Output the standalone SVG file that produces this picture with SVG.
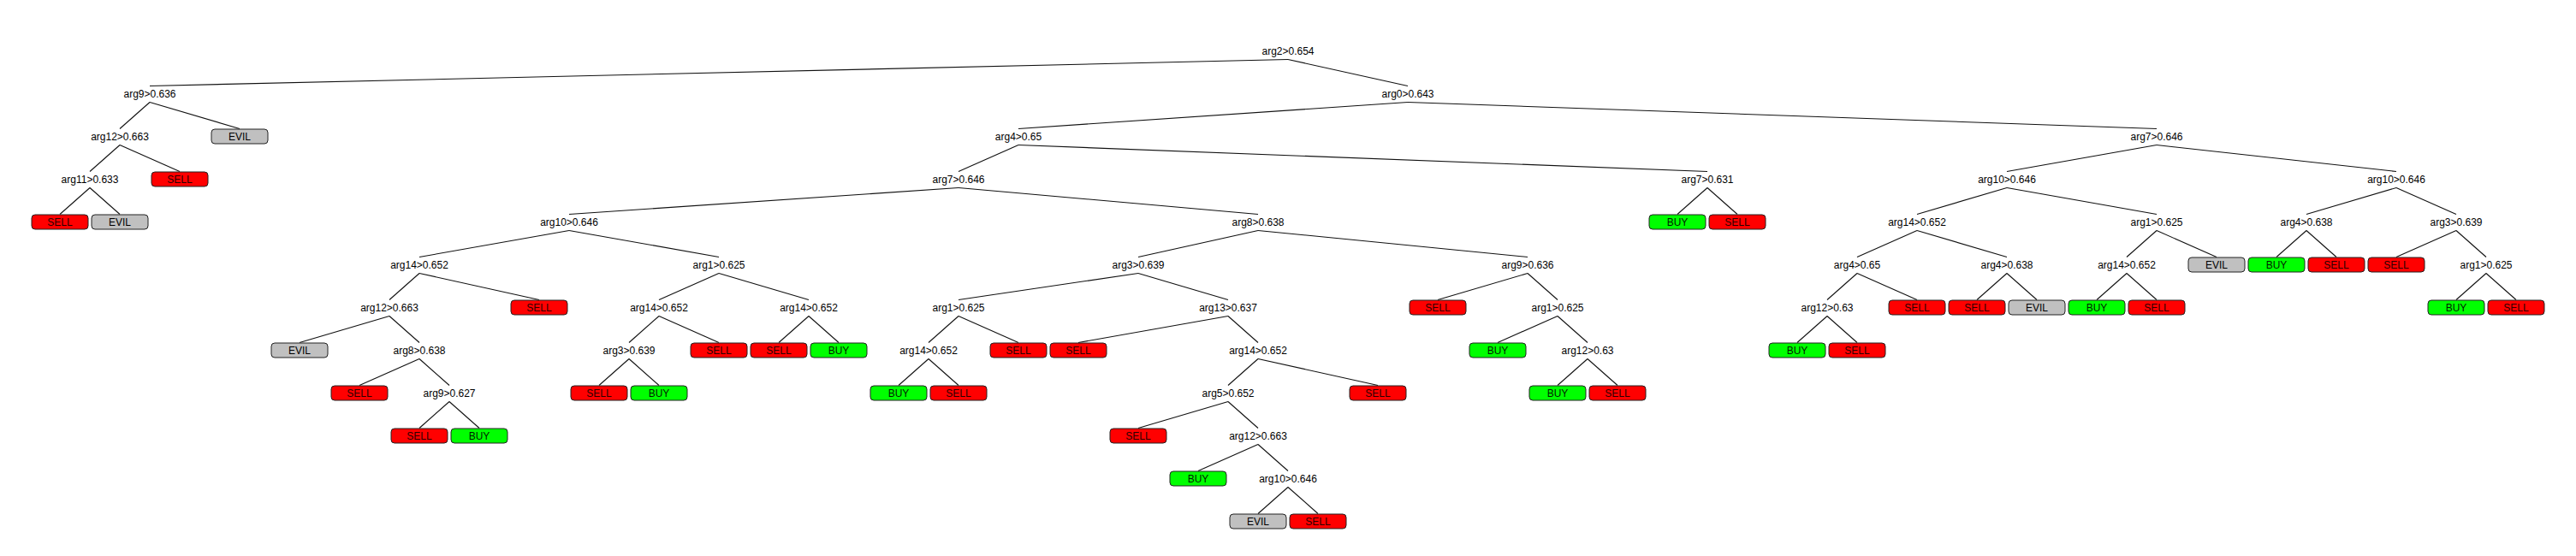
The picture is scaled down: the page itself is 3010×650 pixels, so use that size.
<svg xmlns="http://www.w3.org/2000/svg" width="3010" height="650" viewBox="0 0 3010 650">
<style>
text{font-family:"Liberation Sans",Arial,sans-serif;font-size:12px;text-anchor:middle;fill:#000}
.edges line{stroke:#111;stroke-width:1.1}
.leaf rect{stroke:#222;stroke-width:1}
.sell rect{fill:#ff0000}
.buy rect{fill:#00ff00}
.evil rect{fill:#c0c0c0}
.sell text{fill:#2a0000}
.buy text{fill:#001a00}
</style>
<rect width="3010" height="650" fill="#fff"/>
<g class="edges">
<line x1="1505" y1="69.5" x2="175" y2="100.5"/>
<line x1="1505" y1="69.5" x2="1645" y2="100.5"/>
<line x1="175" y1="119.5" x2="140" y2="150.5"/>
<line x1="175" y1="119.5" x2="280" y2="150.5"/>
<line x1="140" y1="169.5" x2="105" y2="200.5"/>
<line x1="140" y1="169.5" x2="210" y2="200.5"/>
<line x1="105" y1="219.5" x2="70" y2="250.5"/>
<line x1="105" y1="219.5" x2="140" y2="250.5"/>
<line x1="1645" y1="119.5" x2="1190" y2="150.5"/>
<line x1="1645" y1="119.5" x2="2520" y2="150.5"/>
<line x1="1190" y1="169.5" x2="1120" y2="200.5"/>
<line x1="1190" y1="169.5" x2="1995" y2="200.5"/>
<line x1="1120" y1="219.5" x2="665" y2="250.5"/>
<line x1="1120" y1="219.5" x2="1470" y2="250.5"/>
<line x1="665" y1="269.5" x2="490" y2="300.5"/>
<line x1="665" y1="269.5" x2="840" y2="300.5"/>
<line x1="490" y1="319.5" x2="455" y2="350.5"/>
<line x1="490" y1="319.5" x2="630" y2="350.5"/>
<line x1="455" y1="369.5" x2="350" y2="400.5"/>
<line x1="455" y1="369.5" x2="490" y2="400.5"/>
<line x1="490" y1="419.5" x2="420" y2="450.5"/>
<line x1="490" y1="419.5" x2="525" y2="450.5"/>
<line x1="525" y1="469.5" x2="490" y2="500.5"/>
<line x1="525" y1="469.5" x2="560" y2="500.5"/>
<line x1="840" y1="319.5" x2="770" y2="350.5"/>
<line x1="840" y1="319.5" x2="945" y2="350.5"/>
<line x1="770" y1="369.5" x2="735" y2="400.5"/>
<line x1="770" y1="369.5" x2="840" y2="400.5"/>
<line x1="735" y1="419.5" x2="700" y2="450.5"/>
<line x1="735" y1="419.5" x2="770" y2="450.5"/>
<line x1="945" y1="369.5" x2="910" y2="400.5"/>
<line x1="945" y1="369.5" x2="980" y2="400.5"/>
<line x1="1470" y1="269.5" x2="1330" y2="300.5"/>
<line x1="1470" y1="269.5" x2="1785" y2="300.5"/>
<line x1="1330" y1="319.5" x2="1120" y2="350.5"/>
<line x1="1330" y1="319.5" x2="1435" y2="350.5"/>
<line x1="1120" y1="369.5" x2="1085" y2="400.5"/>
<line x1="1120" y1="369.5" x2="1190" y2="400.5"/>
<line x1="1085" y1="419.5" x2="1050" y2="450.5"/>
<line x1="1085" y1="419.5" x2="1120" y2="450.5"/>
<line x1="1435" y1="369.5" x2="1260" y2="400.5"/>
<line x1="1435" y1="369.5" x2="1470" y2="400.5"/>
<line x1="1470" y1="419.5" x2="1435" y2="450.5"/>
<line x1="1470" y1="419.5" x2="1610" y2="450.5"/>
<line x1="1435" y1="469.5" x2="1330" y2="500.5"/>
<line x1="1435" y1="469.5" x2="1470" y2="500.5"/>
<line x1="1470" y1="519.5" x2="1400" y2="550.5"/>
<line x1="1470" y1="519.5" x2="1505" y2="550.5"/>
<line x1="1505" y1="569.5" x2="1470" y2="600.5"/>
<line x1="1505" y1="569.5" x2="1540" y2="600.5"/>
<line x1="1785" y1="319.5" x2="1680" y2="350.5"/>
<line x1="1785" y1="319.5" x2="1820" y2="350.5"/>
<line x1="1820" y1="369.5" x2="1750" y2="400.5"/>
<line x1="1820" y1="369.5" x2="1855" y2="400.5"/>
<line x1="1855" y1="419.5" x2="1820" y2="450.5"/>
<line x1="1855" y1="419.5" x2="1890" y2="450.5"/>
<line x1="1995" y1="219.5" x2="1960" y2="250.5"/>
<line x1="1995" y1="219.5" x2="2030" y2="250.5"/>
<line x1="2520" y1="169.5" x2="2345" y2="200.5"/>
<line x1="2520" y1="169.5" x2="2800" y2="200.5"/>
<line x1="2345" y1="219.5" x2="2240" y2="250.5"/>
<line x1="2345" y1="219.5" x2="2520" y2="250.5"/>
<line x1="2240" y1="269.5" x2="2170" y2="300.5"/>
<line x1="2240" y1="269.5" x2="2345" y2="300.5"/>
<line x1="2170" y1="319.5" x2="2135" y2="350.5"/>
<line x1="2170" y1="319.5" x2="2240" y2="350.5"/>
<line x1="2135" y1="369.5" x2="2100" y2="400.5"/>
<line x1="2135" y1="369.5" x2="2170" y2="400.5"/>
<line x1="2345" y1="319.5" x2="2310" y2="350.5"/>
<line x1="2345" y1="319.5" x2="2380" y2="350.5"/>
<line x1="2520" y1="269.5" x2="2485" y2="300.5"/>
<line x1="2520" y1="269.5" x2="2590" y2="300.5"/>
<line x1="2485" y1="319.5" x2="2450" y2="350.5"/>
<line x1="2485" y1="319.5" x2="2520" y2="350.5"/>
<line x1="2800" y1="219.5" x2="2695" y2="250.5"/>
<line x1="2800" y1="219.5" x2="2870" y2="250.5"/>
<line x1="2695" y1="269.5" x2="2660" y2="300.5"/>
<line x1="2695" y1="269.5" x2="2730" y2="300.5"/>
<line x1="2870" y1="269.5" x2="2800" y2="300.5"/>
<line x1="2870" y1="269.5" x2="2905" y2="300.5"/>
<line x1="2905" y1="319.5" x2="2870" y2="350.5"/>
<line x1="2905" y1="319.5" x2="2940" y2="350.5"/>
</g>
<g id="n0"><text x="1505" y="64">arg2&gt;0.654</text></g>
<g id="n1"><text x="175" y="114">arg9&gt;0.636</text></g>
<g id="n2"><text x="140" y="164">arg12&gt;0.663</text></g>
<g id="n3" class="leaf evil"><rect x="247" y="151" width="66" height="17" rx="4"/><text x="280" y="164">EVIL</text></g>
<g id="n4"><text x="105" y="214">arg11&gt;0.633</text></g>
<g id="n5" class="leaf sell"><rect x="177" y="201" width="66" height="17" rx="4"/><text x="210" y="214">SELL</text></g>
<g id="n6" class="leaf sell"><rect x="37" y="251" width="66" height="17" rx="4"/><text x="70" y="264">SELL</text></g>
<g id="n7" class="leaf evil"><rect x="107" y="251" width="66" height="17" rx="4"/><text x="140" y="264">EVIL</text></g>
<g id="n8"><text x="1645" y="114">arg0&gt;0.643</text></g>
<g id="n9"><text x="1190" y="164">arg4&gt;0.65</text></g>
<g id="n10"><text x="1120" y="214">arg7&gt;0.646</text></g>
<g id="n11"><text x="665" y="264">arg10&gt;0.646</text></g>
<g id="n12"><text x="490" y="314">arg14&gt;0.652</text></g>
<g id="n13"><text x="455" y="364">arg12&gt;0.663</text></g>
<g id="n14" class="leaf evil"><rect x="317" y="401" width="66" height="17" rx="4"/><text x="350" y="414">EVIL</text></g>
<g id="n15"><text x="490" y="414">arg8&gt;0.638</text></g>
<g id="n16" class="leaf sell"><rect x="387" y="451" width="66" height="17" rx="4"/><text x="420" y="464">SELL</text></g>
<g id="n17"><text x="525" y="464">arg9&gt;0.627</text></g>
<g id="n18" class="leaf sell"><rect x="457" y="501" width="66" height="17" rx="4"/><text x="490" y="514">SELL</text></g>
<g id="n19" class="leaf buy"><rect x="527" y="501" width="66" height="17" rx="4"/><text x="560" y="514">BUY</text></g>
<g id="n20" class="leaf sell"><rect x="597" y="351" width="66" height="17" rx="4"/><text x="630" y="364">SELL</text></g>
<g id="n21"><text x="840" y="314">arg1&gt;0.625</text></g>
<g id="n22"><text x="770" y="364">arg14&gt;0.652</text></g>
<g id="n23"><text x="735" y="414">arg3&gt;0.639</text></g>
<g id="n24" class="leaf sell"><rect x="667" y="451" width="66" height="17" rx="4"/><text x="700" y="464">SELL</text></g>
<g id="n25" class="leaf buy"><rect x="737" y="451" width="66" height="17" rx="4"/><text x="770" y="464">BUY</text></g>
<g id="n26" class="leaf sell"><rect x="807" y="401" width="66" height="17" rx="4"/><text x="840" y="414">SELL</text></g>
<g id="n27"><text x="945" y="364">arg14&gt;0.652</text></g>
<g id="n28" class="leaf sell"><rect x="877" y="401" width="66" height="17" rx="4"/><text x="910" y="414">SELL</text></g>
<g id="n29" class="leaf buy"><rect x="947" y="401" width="66" height="17" rx="4"/><text x="980" y="414">BUY</text></g>
<g id="n30"><text x="1470" y="264">arg8&gt;0.638</text></g>
<g id="n31"><text x="1330" y="314">arg3&gt;0.639</text></g>
<g id="n32"><text x="1120" y="364">arg1&gt;0.625</text></g>
<g id="n33"><text x="1085" y="414">arg14&gt;0.652</text></g>
<g id="n34" class="leaf buy"><rect x="1017" y="451" width="66" height="17" rx="4"/><text x="1050" y="464">BUY</text></g>
<g id="n35" class="leaf sell"><rect x="1087" y="451" width="66" height="17" rx="4"/><text x="1120" y="464">SELL</text></g>
<g id="n36" class="leaf sell"><rect x="1157" y="401" width="66" height="17" rx="4"/><text x="1190" y="414">SELL</text></g>
<g id="n37"><text x="1435" y="364">arg13&gt;0.637</text></g>
<g id="n38" class="leaf sell"><rect x="1227" y="401" width="66" height="17" rx="4"/><text x="1260" y="414">SELL</text></g>
<g id="n39"><text x="1470" y="414">arg14&gt;0.652</text></g>
<g id="n40"><text x="1435" y="464">arg5&gt;0.652</text></g>
<g id="n41" class="leaf sell"><rect x="1297" y="501" width="66" height="17" rx="4"/><text x="1330" y="514">SELL</text></g>
<g id="n42"><text x="1470" y="514">arg12&gt;0.663</text></g>
<g id="n43" class="leaf buy"><rect x="1367" y="551" width="66" height="17" rx="4"/><text x="1400" y="564">BUY</text></g>
<g id="n44"><text x="1505" y="564">arg10&gt;0.646</text></g>
<g id="n45" class="leaf evil"><rect x="1437" y="601" width="66" height="17" rx="4"/><text x="1470" y="614">EVIL</text></g>
<g id="n46" class="leaf sell"><rect x="1507" y="601" width="66" height="17" rx="4"/><text x="1540" y="614">SELL</text></g>
<g id="n47" class="leaf sell"><rect x="1577" y="451" width="66" height="17" rx="4"/><text x="1610" y="464">SELL</text></g>
<g id="n48"><text x="1785" y="314">arg9&gt;0.636</text></g>
<g id="n49" class="leaf sell"><rect x="1647" y="351" width="66" height="17" rx="4"/><text x="1680" y="364">SELL</text></g>
<g id="n50"><text x="1820" y="364">arg1&gt;0.625</text></g>
<g id="n51" class="leaf buy"><rect x="1717" y="401" width="66" height="17" rx="4"/><text x="1750" y="414">BUY</text></g>
<g id="n52"><text x="1855" y="414">arg12&gt;0.63</text></g>
<g id="n53" class="leaf buy"><rect x="1787" y="451" width="66" height="17" rx="4"/><text x="1820" y="464">BUY</text></g>
<g id="n54" class="leaf sell"><rect x="1857" y="451" width="66" height="17" rx="4"/><text x="1890" y="464">SELL</text></g>
<g id="n55"><text x="1995" y="214">arg7&gt;0.631</text></g>
<g id="n56" class="leaf buy"><rect x="1927" y="251" width="66" height="17" rx="4"/><text x="1960" y="264">BUY</text></g>
<g id="n57" class="leaf sell"><rect x="1997" y="251" width="66" height="17" rx="4"/><text x="2030" y="264">SELL</text></g>
<g id="n58"><text x="2520" y="164">arg7&gt;0.646</text></g>
<g id="n59"><text x="2345" y="214">arg10&gt;0.646</text></g>
<g id="n60"><text x="2240" y="264">arg14&gt;0.652</text></g>
<g id="n61"><text x="2170" y="314">arg4&gt;0.65</text></g>
<g id="n62"><text x="2135" y="364">arg12&gt;0.63</text></g>
<g id="n63" class="leaf buy"><rect x="2067" y="401" width="66" height="17" rx="4"/><text x="2100" y="414">BUY</text></g>
<g id="n64" class="leaf sell"><rect x="2137" y="401" width="66" height="17" rx="4"/><text x="2170" y="414">SELL</text></g>
<g id="n65" class="leaf sell"><rect x="2207" y="351" width="66" height="17" rx="4"/><text x="2240" y="364">SELL</text></g>
<g id="n66"><text x="2345" y="314">arg4&gt;0.638</text></g>
<g id="n67" class="leaf sell"><rect x="2277" y="351" width="66" height="17" rx="4"/><text x="2310" y="364">SELL</text></g>
<g id="n68" class="leaf evil"><rect x="2347" y="351" width="66" height="17" rx="4"/><text x="2380" y="364">EVIL</text></g>
<g id="n69"><text x="2520" y="264">arg1&gt;0.625</text></g>
<g id="n70"><text x="2485" y="314">arg14&gt;0.652</text></g>
<g id="n71" class="leaf buy"><rect x="2417" y="351" width="66" height="17" rx="4"/><text x="2450" y="364">BUY</text></g>
<g id="n72" class="leaf sell"><rect x="2487" y="351" width="66" height="17" rx="4"/><text x="2520" y="364">SELL</text></g>
<g id="n73" class="leaf evil"><rect x="2557" y="301" width="66" height="17" rx="4"/><text x="2590" y="314">EVIL</text></g>
<g id="n74"><text x="2800" y="214">arg10&gt;0.646</text></g>
<g id="n75"><text x="2695" y="264">arg4&gt;0.638</text></g>
<g id="n76" class="leaf buy"><rect x="2627" y="301" width="66" height="17" rx="4"/><text x="2660" y="314">BUY</text></g>
<g id="n77" class="leaf sell"><rect x="2697" y="301" width="66" height="17" rx="4"/><text x="2730" y="314">SELL</text></g>
<g id="n78"><text x="2870" y="264">arg3&gt;0.639</text></g>
<g id="n79" class="leaf sell"><rect x="2767" y="301" width="66" height="17" rx="4"/><text x="2800" y="314">SELL</text></g>
<g id="n80"><text x="2905" y="314">arg1&gt;0.625</text></g>
<g id="n81" class="leaf buy"><rect x="2837" y="351" width="66" height="17" rx="4"/><text x="2870" y="364">BUY</text></g>
<g id="n82" class="leaf sell"><rect x="2907" y="351" width="66" height="17" rx="4"/><text x="2940" y="364">SELL</text></g>
</svg>
